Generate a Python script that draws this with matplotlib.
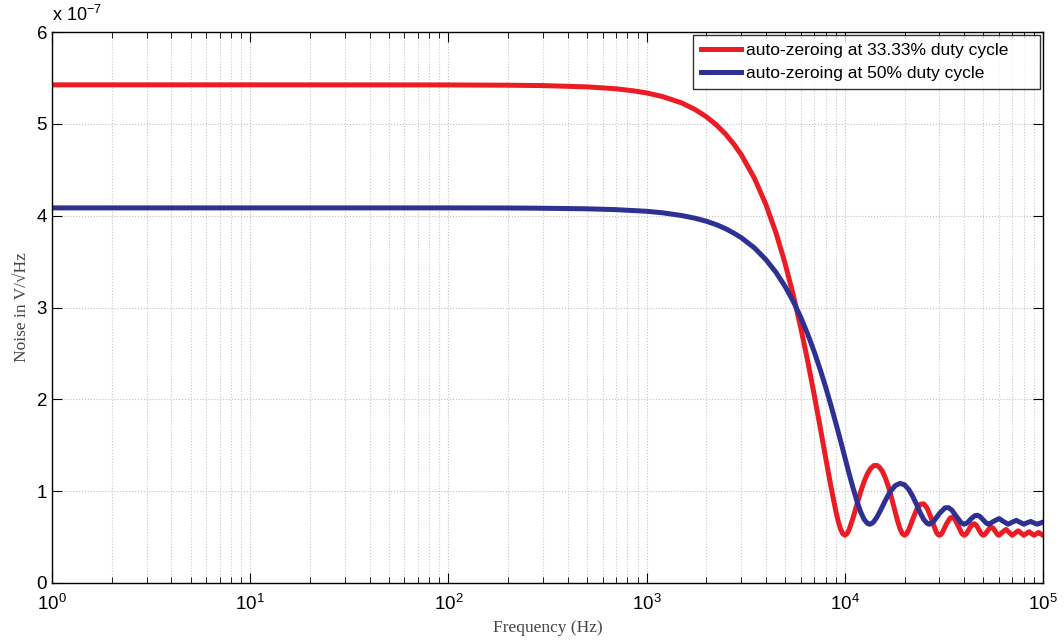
import numpy as np
import matplotlib
matplotlib.use('Agg')
import matplotlib.pyplot as plt
from matplotlib.ticker import LogLocator, FixedLocator

plt.rcParams['font.family'] = ['Liberation Sans', 'DejaVu Sans']
plt.rcParams['mathtext.fontset'] = 'custom'
plt.rcParams['mathtext.rm'] = 'Liberation Sans'
plt.rcParams['mathtext.it'] = 'Liberation Sans'

# noise values, in units of 1e-7 V/sqrt(Hz)
red_freq = [1, 10, 100, 200, 300, 500, 700, 850, 1000, 1200, 1500, 1750, 2000, 2250,
            2500, 2750, 3000, 3500, 4000, 4500, 5000, 5500, 6000, 6500, 7000, 7500,
            8000, 8500, 9000, 9250, 9500, 9750, 10000, 10250, 10500, 11000, 11500,
            12000, 12500, 13000, 13500, 14000, 14500, 15000, 15500, 16000, 16500,
            17000, 17500, 18000, 18500, 19000, 19500, 20000, 20500, 21000, 22000,
            23000, 24000, 25000, 26000, 27000, 28000, 29000, 29500, 30000, 30500,
            31000, 32500, 34000, 35000, 36000, 37500, 39000, 40000, 41000, 42500,
            44000, 45000, 46000, 47500, 49000, 50000, 51000, 52500, 54000, 55000,
            56000, 57500, 59000, 60000, 62500, 65000, 67500, 70000, 72500, 75000,
            77500, 80000, 82500, 85000, 87500, 90000, 92500, 95000, 97500, 100000]
red_noise = [5.425, 5.425, 5.424, 5.421, 5.417, 5.403, 5.382, 5.361, 5.337, 5.298,
             5.229, 5.158, 5.078, 4.988, 4.890, 4.781, 4.665, 4.407, 4.120, 3.809,
             3.477, 3.130, 2.774, 2.413, 2.054, 1.702, 1.366, 1.055, 0.786, 0.677,
             0.592, 0.538, 0.520, 0.536, 0.579, 0.709, 0.855, 0.989, 1.103, 1.190,
             1.248, 1.278, 1.281, 1.258, 1.212, 1.146, 1.064, 0.969, 0.867, 0.765,
             0.669, 0.590, 0.538, 0.520, 0.536, 0.578, 0.693, 0.797, 0.857, 0.862,
             0.816, 0.732, 0.633, 0.551, 0.528, 0.520, 0.527, 0.547, 0.640, 0.708,
             0.715, 0.690, 0.612, 0.537, 0.520, 0.535, 0.593, 0.639, 0.645, 0.630,
             0.579, 0.530, 0.520, 0.530, 0.569, 0.601, 0.606, 0.596, 0.561, 0.527,
             0.520, 0.555, 0.583, 0.550, 0.520, 0.546, 0.568, 0.543, 0.520, 0.540,
             0.558, 0.538, 0.520, 0.536, 0.550, 0.534, 0.520]

blue_freq = [1, 10, 100, 200, 300, 500, 700, 1000, 1200, 1500, 1750, 2000, 2250, 2500,
             2750, 3000, 3500, 4000, 4500, 5000, 5500, 6000, 6500, 7000, 7500, 8000,
             8500, 9000, 9500, 10000, 10500, 11000, 11500, 12000, 12500, 13000, 13333,
             13700, 14000, 14500, 15000, 15500, 16000, 16500, 17000, 18000, 19000,
             20000, 21000, 22000, 23000, 24000, 25000, 26000, 26667, 28000, 30000,
             32000, 33333, 34667, 36667, 38667, 40000, 41333, 43333, 45333, 46667,
             48000, 50000, 52000, 53333, 56667, 60000, 63333, 66667, 70000, 73333,
             76667, 80000, 83333, 86667, 90000, 93333, 96667, 100000]
blue_noise = [4.085, 4.085, 4.085, 4.084, 4.081, 4.075, 4.066, 4.048, 4.032, 4.002,
              3.973, 3.940, 3.902, 3.859, 3.811, 3.761, 3.649, 3.521, 3.381, 3.228,
              3.064, 2.890, 2.709, 2.521, 2.329, 2.134, 1.938, 1.744, 1.555, 1.370,
              1.194, 1.035, 0.895, 0.777, 0.694, 0.649, 0.640, 0.649, 0.668, 0.716,
              0.775, 0.836, 0.898, 0.951, 0.998, 1.062, 1.085, 1.069, 1.019, 0.944,
              0.855, 0.765, 0.692, 0.649, 0.640, 0.668, 0.757, 0.818, 0.821, 0.794,
              0.720, 0.655, 0.640, 0.653, 0.699, 0.734, 0.738, 0.725, 0.685, 0.648,
              0.640, 0.675, 0.701, 0.668, 0.640, 0.663, 0.682, 0.660, 0.640, 0.657,
              0.670, 0.654, 0.640, 0.652, 0.663]

labels = ['auto-zeroing at 33.33% duty cycle', 'auto-zeroing at 50% duty cycle']

fig = plt.figure(figsize=(10.64, 6.41), dpi=100)
ax = fig.add_axes([0.0489, 0.0905, 0.9314, 0.8595])

ax.plot(red_freq, red_noise, color='#ec1c24', lw=3.6, label=labels[0], solid_joinstyle='round')
ax.plot(blue_freq, blue_noise, color='#2e3192', lw=3.6, label=labels[1], solid_joinstyle='round')

ax.set_xscale('log')
ax.set_xlim(1, 1e5)
ax.set_ylim(0, 6)
ax.yaxis.set_major_locator(FixedLocator([0, 1, 2, 3, 4, 5, 6]))
ax.xaxis.set_major_locator(LogLocator(base=10, numticks=10))
ax.xaxis.set_minor_locator(LogLocator(base=10, subs=np.arange(2, 10), numticks=20))

ax.grid(True, which='major', axis='both', linestyle=':', color='#c0c0c0', lw=0.8)
ax.grid(True, which='minor', axis='x', linestyle=':', color='#c8c8c8', lw=0.8)

ax.tick_params(which='both', direction='in', top=True, right=True, labelsize=13.5, colors='black')
ax.tick_params(which='major', length=7)
ax.tick_params(which='minor', length=4)
ax.tick_params(axis='x', pad=8)
for s in ax.spines.values():
    s.set_linewidth(1.0)

ax.text(0.0, 1.012, r'x 10$^{-7}$', transform=ax.transAxes, fontsize=13, ha='left', va='bottom')

ax.set_xlabel('Frequency (Hz)', fontsize=12.5, family=['Liberation Serif', 'DejaVu Serif'], color='#444444', labelpad=4)
ax.set_ylabel('Noise in V/\u221aHz', fontsize=12.5, family=['Liberation Serif', 'DejaVu Serif'], color='#444444', labelpad=5)

leg = ax.legend(loc='upper left', bbox_to_anchor=(0.6468, 0.898, 0.350, 0.0966), mode='expand',
                fontsize=12.5, frameon=True, fancybox=False, edgecolor='black',
                handlelength=2.3, borderaxespad=0.0, labelspacing=0.45, handletextpad=0.3,
                borderpad=0.45)
leg.get_frame().set_linewidth(1.0)

fig.savefig('out.png', dpi=100)
